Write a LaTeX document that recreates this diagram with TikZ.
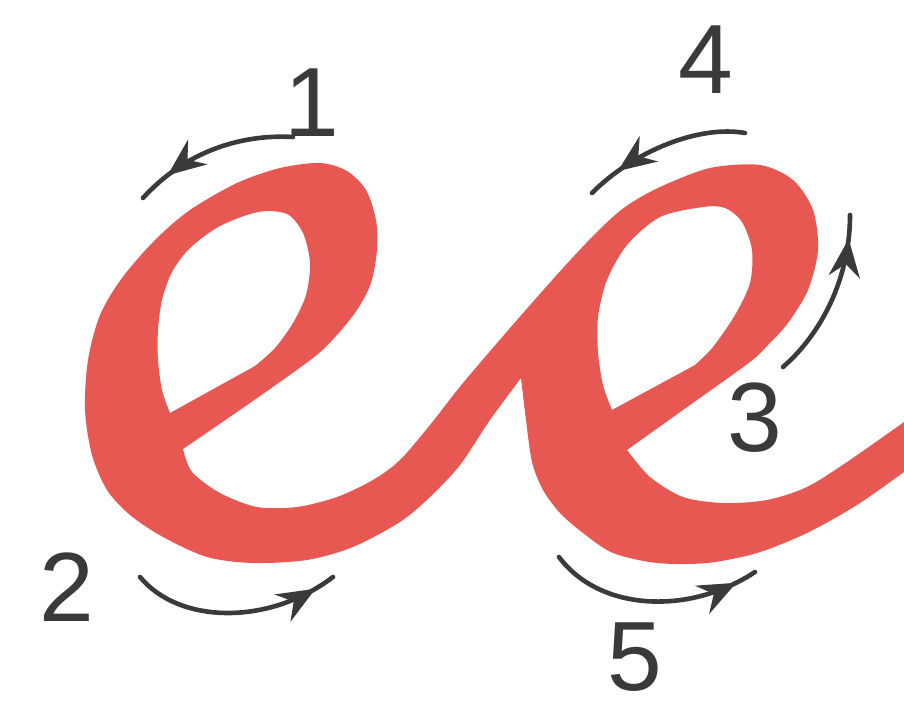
\documentclass[tikz,border=0pt]{standalone}
\usepackage{fontspec}
\setmainfont{Liberation Sans}
\usetikzlibrary{arrows.meta,decorations.markings}
\definecolor{glyphred}{RGB}{232,88,82}
\definecolor{arrowgray}{RGB}{58,58,58}
\begin{document}
\begin{tikzpicture}[x=0.25mm,y=-0.25mm,
  glyph/.style={fill=glyphred, even odd rule},
  digit/.style={text=arrowgray, inner sep=0pt, font=\fontsize{70}{70}\selectfont},
  hwarrow/.style={draw=arrowgray, line width=1.15mm, line cap=round,
    decoration={markings, mark=at position #1 with {\arrow{Stealth[length=9.5mm,width=7.8mm,inset=3.2mm]}}},
    postaction={decorate}}
]
\fill[white] (0,0) rectangle (904,708);
\useasboundingbox (0,0) rectangle (904,708);

% the two joined letters
\fill[glyph]
  plot[smooth] coordinates {(183,449) (192,472) (220,493) (257,507) (297,507) (337,497) (373,480) (400,460)
     (430,425) (463,383) (517,320) (563,268) (597,232) (625,207) (660,187) (710,168) (760,165) (793,180)
     (813,210) (818,250) (808,290) (788,323) (768,345) (750,362) (690,405) (627,450)}
  -- plot[smooth] coordinates {(627,450) (650,477) (683,497) (723,503) (767,500) (807,487) (847,462) (890,432) (904,422)}
  -- (904,472)
  -- plot[smooth] coordinates {(904,472) (857,505) (807,533) (757,553) (707,563) (657,563) (613,553) (583,533)
     (560,513) (543,490) (532,462) (526,420) (521,378)}
  -- plot[smooth] coordinates {(521,378) (490,420) (460,465) (430,497) (400,522) (353,547) (307,560) (253,563)
     (207,557) (163,537) (130,515) (107,490) (92,455) (85,410) (88,360) (100,315) (122,278) (155,240) (190,210)
     (237,183) (280,168) (320,163) (347,171) (366,190) (376,220) (377,250) (371,283) (357,310) (336,336)
     (313,358) (250,403) (183,449)}
  -- cycle
  plot[smooth] coordinates {(170,413) (162,390) (158,360) (158,330) (162,300) (172,272) (190,248) (220,226)
     (258,212) (287,214) (303,233) (310,263) (306,295) (293,323) (275,348) (255,366)} -- cycle
  plot[smooth] coordinates {(612,410) (603,385) (598,352) (598,317) (607,280) (627,245) (660,217) (703,207)
     (725,208) (742,222) (752,250) (750,283) (735,315) (713,347) (695,365)} -- cycle;

% stroke-order arrows
\coordinate (a1s) at (293,137); \coordinate (a1e) at (143,198);
\coordinate (a2s) at (140,577); \coordinate (a2e) at (333,577);
\coordinate (a3s) at (783,367); \coordinate (a3e) at (850,215);
\coordinate (a4s) at (745,133); \coordinate (a4e) at (592,193);
\coordinate (a5s) at (559,557); \coordinate (a5e) at (755,572);

\draw[hwarrow=0.8] (a1s) .. controls (240,134) and (185,152) .. (a1e);
\draw[hwarrow=0.9] (a2s) .. controls (180,625) and (270,625) .. (a2e);
\draw[hwarrow=0.86] (a3s) .. controls (820,335) and (850,280) .. (a3e);
\draw[hwarrow=0.8] (a4s) .. controls (700,125) and (635,150) .. (a4e);
\draw[hwarrow=0.9] (a5s) .. controls (600,612) and (690,615) .. (a5e);

% numbers
\node[digit] (n1) at (312,103) {1};
\node[digit] (n2) at (67,587) {2};
\node[digit] (n3) at (755,418) {3};
\node[digit] (n4) at (706,60) {4};
\node[digit] (n5) at (635,657) {5};
\end{tikzpicture}
\end{document}
